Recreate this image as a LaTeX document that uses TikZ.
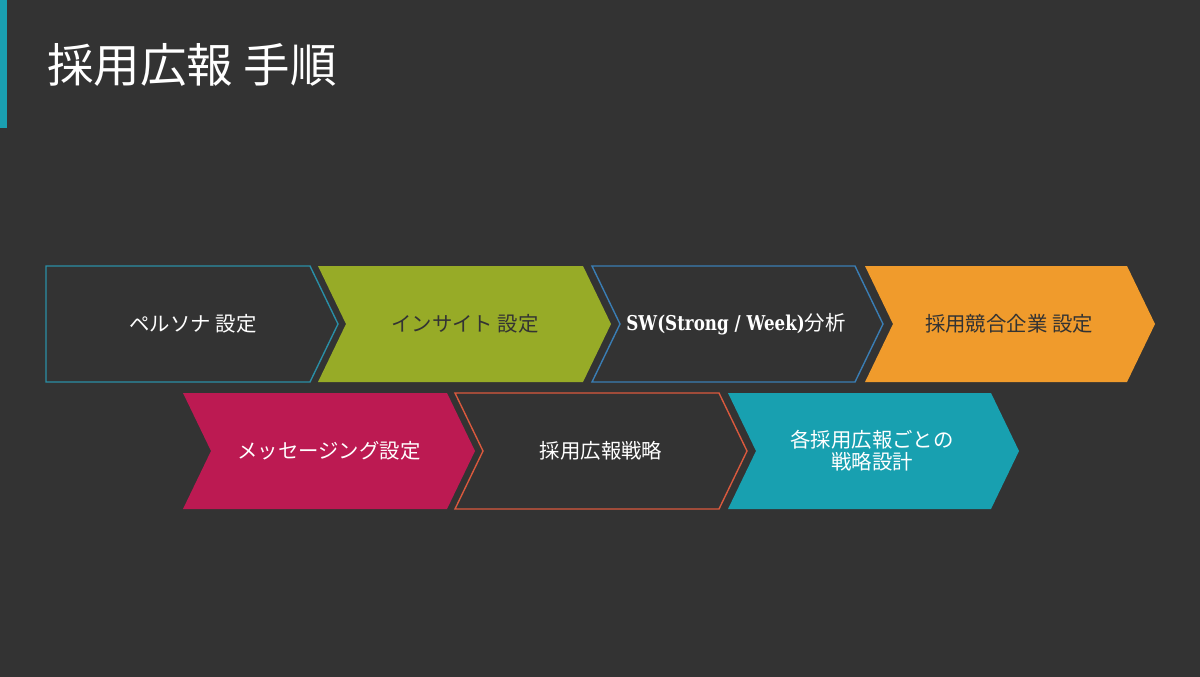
\documentclass[tikz,border=0pt]{standalone}
\usepackage{fontspec}
\setmainfont{Noto Sans CJK JP}
\newfontfamily\slab{DejaVu Serif}[FakeStretch=0.82]
\definecolor{bg}{HTML}{333333}
\definecolor{accent}{HTML}{1A9FB0}
\definecolor{olive}{HTML}{97AB27}
\definecolor{orangeC}{HTML}{F09B2C}
\definecolor{magentaC}{HTML}{BC1A52}
\definecolor{tealC}{HTML}{18A0B0}
\definecolor{lineTeal}{HTML}{2A8EA6}
\definecolor{lineBlue}{HTML}{3A7DB4}
\definecolor{lineRed}{HTML}{D9593D}
\definecolor{darktext}{HTML}{333333}
\tikzset{
  chevtext/.style={font=\fontsize{20.4}{24}\selectfont, align=center, inner sep=0pt},
  outlined/.style={draw=#1, line width=1.4pt, fill=bg},
  filled/.style={fill=#1, draw=none},
}
% chevron path: #1 left x, #2 right x (top corners), #3 top y, #4 bottom y
\newcommand\chevpath[4]{(#1,#3) -- (#2,#3) -- ({#2+28},{(#3+#4)/2}) -- (#2,#4) -- (#1,#4) -- ({#1+28},{(#3+#4)/2}) -- cycle}
\begin{document}
\begin{tikzpicture}[x=1pt,y=-1pt]
\fill[bg] (0,0) rectangle (1200,677);
\useasboundingbox (0,0) rectangle (1200,677);
\fill[accent] (0,0) rectangle (7,128);
\node[anchor=west, text=white, font=\fontsize{46.5}{52}\selectfont, inner sep=0pt] (title) at (47,65) {採用広報 手順};

% row 1
\draw[outlined=lineTeal] (46,266) -- (310,266) -- (338,324) -- (310,382) -- (46,382) -- cycle;
\node[chevtext, text=white] (c1) at (193,324) {ペルソナ 設定};

\fill[filled=olive] \chevpath{318}{583}{266}{382};
\node[chevtext, text=darktext] (c2) at (465,324) {インサイト 設定};

\draw[outlined=lineBlue] \chevpath{592}{855}{266}{382};
\node[chevtext, text=white] (c3) at (736,324) {{\slab\bfseries SW(Strong / Week)}分析};

\fill[filled=orangeC] \chevpath{865}{1127}{266}{382};
\node[chevtext, text=darktext] (c4) at (1009,324) {採用競合企業 設定};

% row 2
\fill[filled=magentaC] \chevpath{183}{447}{393}{509};
\node[chevtext, text=white] (c5) at (329,451) {メッセージング設定};

\draw[outlined=lineRed] \chevpath{455}{719}{393}{509};
\node[chevtext, text=white] (c6) at (601,451) {採用広報戦略};

\fill[filled=tealC] \chevpath{728}{991}{393}{509};
\node[chevtext, text=white, font=\fontsize{20.4}{22}\selectfont] (c7) at (872,451) {各採用広報ごとの\\戦略設計};
\end{tikzpicture}
\end{document}
